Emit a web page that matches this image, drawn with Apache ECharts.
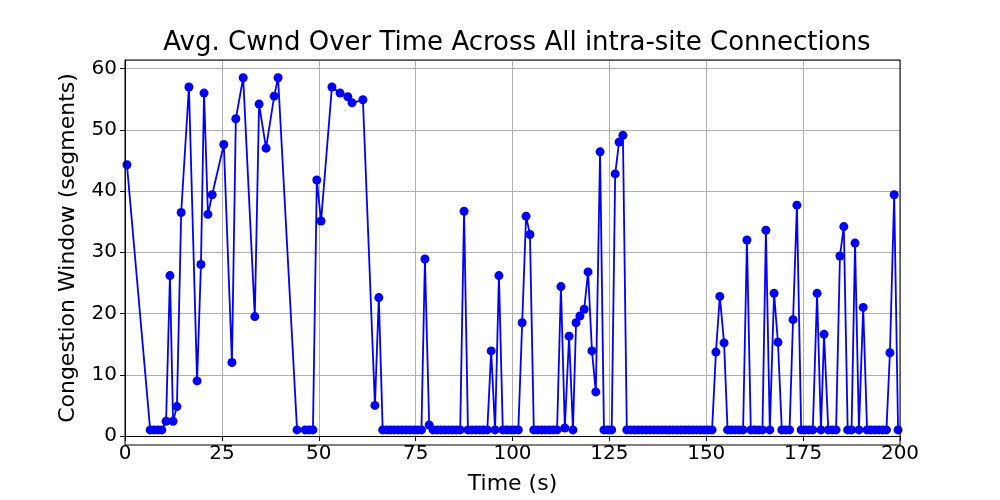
<!DOCTYPE html>
<html><head><meta charset="utf-8">
<script src="https://cdn.jsdelivr.net/npm/echarts@6/dist/echarts.min.js"></script>
<style>html,body{margin:0;padding:0;background:#fff}#c{width:1000px;height:500px}</style>
</head><body><div id="c"></div>
<script>
const timeS = [0.5,6.5,7.5,8.5,9.5,10.6,11.6,12.4,13.4,14.5,16.5,18.6,19.6,20.4,21.4,22.5,25.5,27.6,28.6,30.5,33.5,34.6,36.4,38.5,39.5,
44.4,46.5,47.5,48.5,49.5,50.6,53.4,55.5,57.5,58.6,61.4,64.5,65.5,
66.5,67.5,68.5,69.5,70.5,71.5,72.5,73.5,74.5,75.5,76.5,77.4,78.5,
79.5,80.5,81.5,82.5,83.5,84.5,85.5,86.5,87.5,
88.5,89.5,90.5,91.5,92.5,93.5,94.5,95.5,96.5,
97.5,98.5,99.5,100.5,101.5,102.5,103.5,104.5,
105.5,106.5,107.5,108.5,109.5,110.5,111.5,112.5,113.5,114.6,115.6,116.4,117.4,118.5,119.5,120.5,121.5,122.6,
123.6,124.6,125.6,126.5,127.5,128.5,
129.5,130.5,131.5,132.5,133.5,134.5,135.5,136.5,137.5,138.5,139.5,140.5,141.5,142.5,143.5,144.5,145.5,146.5,147.5,148.5,149.5,150.5,151.5,
152.5,153.5,154.6,155.5,156.5,157.5,158.5,159.5,160.5,161.5,162.5,163.5,164.5,165.4,166.4,167.5,168.5,
169.5,170.5,171.5,172.4,173.4,174.5,175.5,176.5,177.5,178.6,179.6,180.4,181.5,182.5,183.5,184.5,185.5,186.5,187.5,188.4,189.4,190.5,
191.5,192.5,193.5,194.5,195.5,196.5,197.4,198.5,199.5];
const cwnd = [44.3,1,1,1,1,2.4,26.2,2.4,4.8,36.5,57,9,28,56,36.2,39.4,47.6,12,51.8,58.5,19.5,54.2,47,55.5,58.5,
1,1,1,1,41.8,35.1,57,56,55.4,54.4,54.9,5,22.6,
1,1,1,1,1,1,1,1,1,1,1,28.9,1.8,
1,1,1,1,1,1,1,1,36.7,
1,1,1,1,1,1,13.9,1,26.2,
1,1,1,1,1,18.5,35.9,32.9,
1,1,1,1,1,1,1,24.4,1.3,16.3,1,18.5,19.6,20.7,26.8,13.9,7.2,46.4,
1,1,1,42.8,48,49.1,
1,1,1,1,1,1,1,1,1,1,1,1,1,1,1,1,1,1,1,1,1,1,1,
13.7,22.8,15.2,1,1,1,1,1,32,1,1,1,1,33.6,1,23.3,15.3,
1,1,1,19,37.7,1,1,1,1,23.3,1,16.6,1,1,1,29.4,34.2,1,1,31.5,1,21,
1,1,1,1,1,1,13.6,39.4,1];
const xTicks = [0,25,50,75,100,125,150,175,200];
const yTicks = [0,10,20,30,40,50,60];
const chart = echarts.init(document.getElementById('c'));
const font = 'DejaVu Sans';
chart.setOption({
  animation:false,
  title:{text:'Avg. Cwnd Over Time Across All intra-site Connections',left:512,top:25,textAlign:'center',
    textStyle:{fontFamily:font,fontSize:26,fontWeight:'normal',color:'#000'}},
  grid:{left:125,right:100,top:60,bottom:55},
  xAxis:{type:'value',min:0,max:200,interval:25,name:'Time (s)',nameLocation:'middle',nameGap:37,
    nameTextStyle:{fontFamily:font,fontSize:22,color:'#000'},
    axisLine:{onZero:false,lineStyle:{color:'#000',width:1}},axisTick:{show:true,length:5,lineStyle:{color:'#000'}},
    axisLabel:{fontFamily:font,fontSize:20,color:'#000',margin:8,formatter:v=>xTicks.includes(v)?String(v):''},
    splitLine:{show:true,lineStyle:{color:'#b0b0b0',width:1}}},
  yAxis:{type:'value',min:0,max:61.4,interval:10,name:'Congestion Window (segments)',nameLocation:'middle',nameGap:46,
    nameTextStyle:{fontFamily:font,fontSize:22,color:'#000'},
    axisLine:{show:true,lineStyle:{color:'#000',width:1}},axisTick:{show:true,length:5,lineStyle:{color:'#000'}},
    axisLabel:{fontFamily:font,fontSize:20,color:'#000',margin:8,showMaxLabel:false,formatter:v=>yTicks.includes(v)?String(v):''},
    splitLine:{show:true,lineStyle:{color:'#b0b0b0',width:1}}},
  series:[{type:'line',data:timeS.map((t,i)=>[t,cwnd[i]]),symbol:'circle',symbolSize:9,
    lineStyle:{color:'#0000ff',width:1.8},itemStyle:{color:'#0000ff'}}]
});
chart.setOption({graphic:[{type:'rect',shape:{x:125,y:60,width:775,height:385},style:{fill:'none',stroke:'#000',lineWidth:1},z:100}]});
</script></body></html>
